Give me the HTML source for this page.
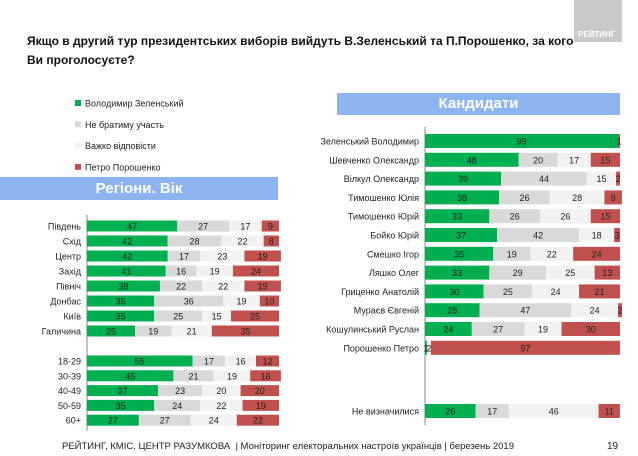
<!DOCTYPE html>
<html><head><meta charset="utf-8"><style>
body{margin:0;width:638px;height:456px;background:#fff;font-family:"Liberation Sans",sans-serif;overflow:hidden;position:relative}
.t{position:absolute;white-space:nowrap}
</style></head><body>
<div class="t" style="left:27px;top:32px;font-size:12px;font-weight:bold;line-height:19px;color:#111">Якщо в другий тур президентських виборів вийдуть В.Зеленський та П.Порошенко, за кого<br>Ви проголосуєте?</div>
<div style="position:absolute;left:574px;top:0;width:48px;height:42px;background:#c9c9c9"><div class="t" style="left:4px;top:30px;font-size:8px;font-weight:bold;color:#fff">РЕЙТИНГ</div></div>
<div style="position:absolute;left:0;top:177px;width:278px;height:23px;background:#8eb4f0;color:#fff;font-weight:bold;font-size:15px;text-align:center;line-height:23px">Регіони. Вік</div>
<div style="position:absolute;left:337px;top:93px;width:283px;height:22px;background:#8eb4f0;color:#fff;font-weight:bold;font-size:15px;text-align:center;line-height:22px">Кандидати</div>
<svg id="c" width="638" height="456" style="position:absolute;left:0;top:0" font-family="Liberation Sans, sans-serif"></svg>
<div class="t" style="left:62px;top:441px;font-size:9.5px;color:#222">РЕЙТИНГ, КМІС, ЦЕНТР РАЗУМКОВА &nbsp;| Моніторинг електоральних настроїв українців | березень 2019</div>
<div class="t" style="left:607px;top:441px;font-size:10px;color:#222">19</div>
<script>
const seriesNames=["Володимир Зеленський","Не братиму участь","Важко відповісти","Петро Порошенко"];
const colors=["#00b050","#d9d9d9","#f2f2f2","#c0504d"];
const leftCats=["Південь","Схід","Центр","Захід","Північ","Донбас","Київ","Галичина","18-29","30-39","40-49","50-59","60+"];
const leftZel=[47,42,42,41,38,35,35,25,55,45,37,35,27];
const leftNo=[27,28,17,16,22,36,25,19,17,21,23,24,27];
const leftHard=[17,22,23,19,22,19,15,21,16,19,20,22,24];
const leftPor=[9,8,19,24,19,10,25,35,12,16,20,19,22];
const rightCats=["Зеленський Володимир","Шевченко Олександр","Вілкул Олександр","Тимошенко Юлія","Тимошенко Юрій","Бойко Юрій","Смешко Ігор","Ляшко Олег","Гриценко Анатолій","Мураєв Євгеній","Кошулинський Руслан","Порошенко Петро","Не визначилися"];
const rightZel=[99,48,39,38,33,37,35,33,30,28,24,1,26];
const rightNo=[0,20,44,26,26,42,19,29,25,47,27,0,17];
const rightHard=[0,17,15,28,26,18,22,25,24,24,19,2,46];
const rightPor=[1,15,2,9,15,3,24,13,21,2,30,97,11];
const svg=document.getElementById('c');const NS='http://www.w3.org/2000/svg';
function mk(t,a,p){const e=document.createElementNS(NS,t);for(const k in a)e.setAttribute(k,a[k]);(p||svg).appendChild(e);return e;}
// legend
seriesNames.forEach((n,i)=>{const y=103+i*21.3;
const r=mk('rect',{x:75,y:y-3,width:6,height:6,fill:colors[i]});


const t=mk('text',{x:85,y:y+3.5,'font-size':9,fill:'#222'});t.textContent=n;

});
function chart(cats,arrs,x0,w,rowY,bh,fs,name,lx){
 const sc=v=>v/100*w;
 const g=mk('g',{});
 const ys=cats.map((c,i)=>rowY(i));
 mk('line',{x1:x0,x2:x0,y1:ys[0]-bh,y2:ys[ys.length-1]+bh,stroke:'#888','stroke-width':1},g);
 cats.forEach((c,i)=>{const y=ys[i];let acc=0;
  const lb=mk('text',{x:x0-6,y:y+3.5,'font-size':fs,'text-anchor':'end',fill:'#222'},g);lb.textContent=c;
  
  
  arrs.forEach((a,s)=>{const v=a[i];const x=x0+sc(acc);acc+=v;if(v<=0)return;
   const r=mk('rect',{x:x,y:y-bh/2,width:sc(v),height:bh,fill:colors[s]},g);
   
   
   const t=mk('text',{x:x+sc(v)/2,y:y+3.5,'font-size':fs,'text-anchor':'middle',fill:'#222'},g);t.textContent=v;});
 });}
chart(leftCats,[leftZel,leftNo,leftHard,leftPor],87,192,i=>i<8?226+i*15:361+(i-8)*14.8,11,9,'regions-age-chart');
chart(rightCats,[rightZel,rightNo,rightHard,rightPor],425,195,i=>i<12?141+i*18.8:411,14,9,'candidates-chart');
</script>
</body></html>
